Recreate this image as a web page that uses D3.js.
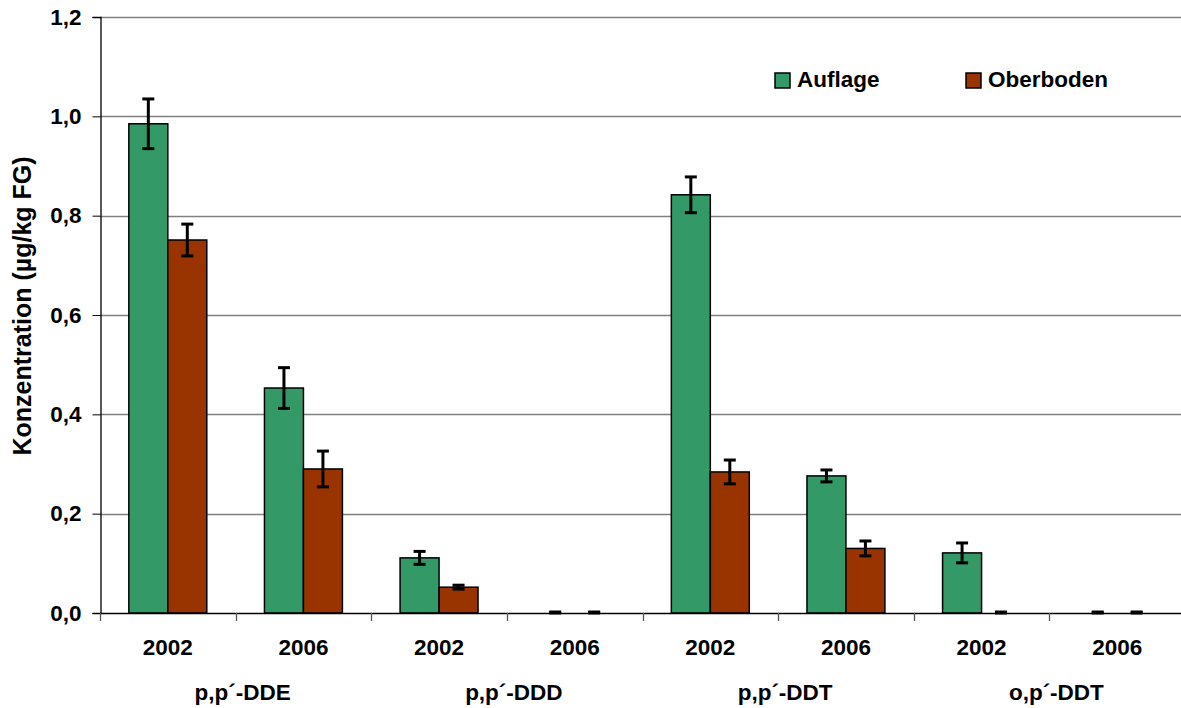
<!DOCTYPE html>
<html>
<head>
<meta charset="utf-8">
<script src="https://cdn.jsdelivr.net/npm/d3@7"></script>
<style>
  body { margin: 0; background: #fff; }
  text { font-family: "Liberation Sans", Arial, sans-serif; font-weight: bold; fill: #000; }
</style>
</head>
<body>
<svg></svg>
<script>
const years = ["2002", "2006", "2002", "2006", "2002", "2006", "2002", "2006"];
const groups = ["p,p´-DDE", "p,p´-DDD", "p,p´-DDT", "o,p´-DDT"];
const seriesNames = ["Auflage", "Oberboden"];
const auflage = [0.985, 0.453, 0.111, 0, 0.842, 0.276, 0.121, 0];
const auflageErr = [0.05, 0.041, 0.013, 0, 0.036, 0.012, 0.02, 0];
const oberboden = [0.751, 0.29, 0.052, 0, 0.284, 0.13, 0, 0];
const oberbodenErr = [0.032, 0.036, 0.004, 0, 0.024, 0.015, 0, 0];
const yTicks = [0, 0.2, 0.4, 0.6, 0.8, 1.0, 1.2];
const colors = ["#339966", "#993300"];

const width = 1181, height = 708;
const margin = { top: 17, right: -4, bottom: 95, left: 100 };

const svg = d3.select("svg").attr("width", width).attr("height", height);

const x0 = d3.scaleBand()
    .domain(d3.range(years.length))
    .range([margin.left, width - margin.right]);

const x1 = d3.scaleBand()
    .domain(seriesNames)
    .range([0, x0.bandwidth()])
    .paddingOuter(0.74);

const y = d3.scaleLinear()
    .domain([0, 1.2])
    .range([height - margin.bottom, margin.top]);

const fmt = d => d3.format(".1f")(d).replace(".", ",");

// gridlines
svg.append("g").selectAll("line")
  .data(yTicks.slice(1))
  .join("line")
    .attr("x1", margin.left).attr("x2", width)
    .attr("y1", d => Math.round(y(d)) + 0.5).attr("y2", d => Math.round(y(d)) + 0.5)
    .attr("stroke", "#808080").attr("stroke-width", 1.3);

// y axis
const yAxis = d3.axisLeft(y).tickValues(yTicks).tickFormat(fmt).tickSize(8).tickPadding(11);
const gy = svg.append("g")
    .attr("transform", `translate(${margin.left + 0.5},0)`)
    .call(yAxis);
gy.select(".domain").attr("stroke", "#000").attr("stroke-width", 1.3);
gy.selectAll(".tick line").attr("stroke", "#000");
gy.selectAll(".tick text").style("font-size", "22.5px");

// bars
const series = [
  { name: seriesNames[0], values: auflage, err: auflageErr, color: colors[0] },
  { name: seriesNames[1], values: oberboden, err: oberbodenErr, color: colors[1] }
];

const bars = [];
series.forEach(s => s.values.forEach((v, i) => bars.push({ i, name: s.name, v, e: s.err[i], color: s.color })));

svg.append("g").selectAll("rect")
  .data(bars.filter(b => b.v > 0))
  .join("rect")
    .attr("x", b => x0(b.i) + x1(b.name))
    .attr("y", b => y(b.v))
    .attr("width", x1.bandwidth())
    .attr("height", b => y(0) - y(b.v))
    .attr("fill", b => b.color)
    .attr("stroke", "#000")
    .attr("stroke-width", 1.5);

// x axis
const gx = svg.append("g");
gx.append("line")
    .attr("x1", margin.left).attr("x2", width)
    .attr("y1", y(0) + 0.5).attr("y2", y(0) + 0.5)
    .attr("stroke", "#000").attr("stroke-width", 1.3);
gx.selectAll(".tk")
  .data(d3.range(years.length + 1))
  .join("line")
    .attr("class", "tk")
    .attr("x1", i => Math.round(margin.left + i * x0.step()) + 0.5)
    .attr("x2", i => Math.round(margin.left + i * x0.step()) + 0.5)
    .attr("y1", y(0)).attr("y2", y(0) + 8)
    .attr("stroke", "#555").attr("stroke-width", 1.3);

gx.selectAll(".yr")
  .data(years)
  .join("text")
    .attr("class", "yr")
    .attr("x", (d, i) => x0(i) + x0.bandwidth() / 2)
    .attr("y", 655)
    .attr("text-anchor", "middle")
    .style("font-size", "22.5px")
    .text(d => d);

gx.selectAll(".grp")
  .data(groups)
  .join("text")
    .attr("class", "grp")
    .attr("x", (d, i) => x0(i * 2) + x0.step() + 7)
    .attr("y", 700)
    .attr("text-anchor", "middle")
    .style("font-size", "22.5px")
    .text(d => d);

// error bars
const eb = svg.append("g").attr("stroke", "#000").attr("stroke-width", 3);
const cx = b => x0(b.i) + x1(b.name) + x1.bandwidth() / 2;
eb.selectAll(".v")
  .data(bars.filter(b => b.e > 0))
  .join("line")
    .attr("x1", cx).attr("x2", cx)
    .attr("y1", b => y(b.v + b.e)).attr("y2", b => y(b.v - b.e));
eb.selectAll(".capt")
  .data(bars)
  .join("line")
    .attr("x1", b => cx(b) - 6).attr("x2", b => cx(b) + 6)
    .attr("y1", b => y(b.v + b.e)).attr("y2", b => y(b.v + b.e));
eb.selectAll(".capb")
  .data(bars)
  .join("line")
    .attr("x1", b => cx(b) - 6).attr("x2", b => cx(b) + 6)
    .attr("y1", b => Math.min(y(b.v - b.e), y(0) - 1)).attr("y2", b => Math.min(y(b.v - b.e), y(0) - 1));

// y title
svg.append("text")
    .attr("transform", "translate(31,306) rotate(-90)")
    .attr("text-anchor", "middle")
    .style("font-size", "25px")
    .text("Konzentration (µg/kg FG)");

// legend
const legendX = [775, 966];
const lg = svg.append("g").selectAll("g")
  .data(series)
  .join("g")
    .attr("transform", (d, i) => `translate(${legendX[i]},73)`);
lg.append("rect")
    .attr("width", 15).attr("height", 15)
    .attr("fill", d => d.color)
    .attr("stroke", "#000").attr("stroke-width", 1.5);
lg.append("text")
    .attr("x", 22).attr("y", 14)
    .style("font-size", "22.5px")
    .text(d => d.name);
</script>
</body>
</html>
